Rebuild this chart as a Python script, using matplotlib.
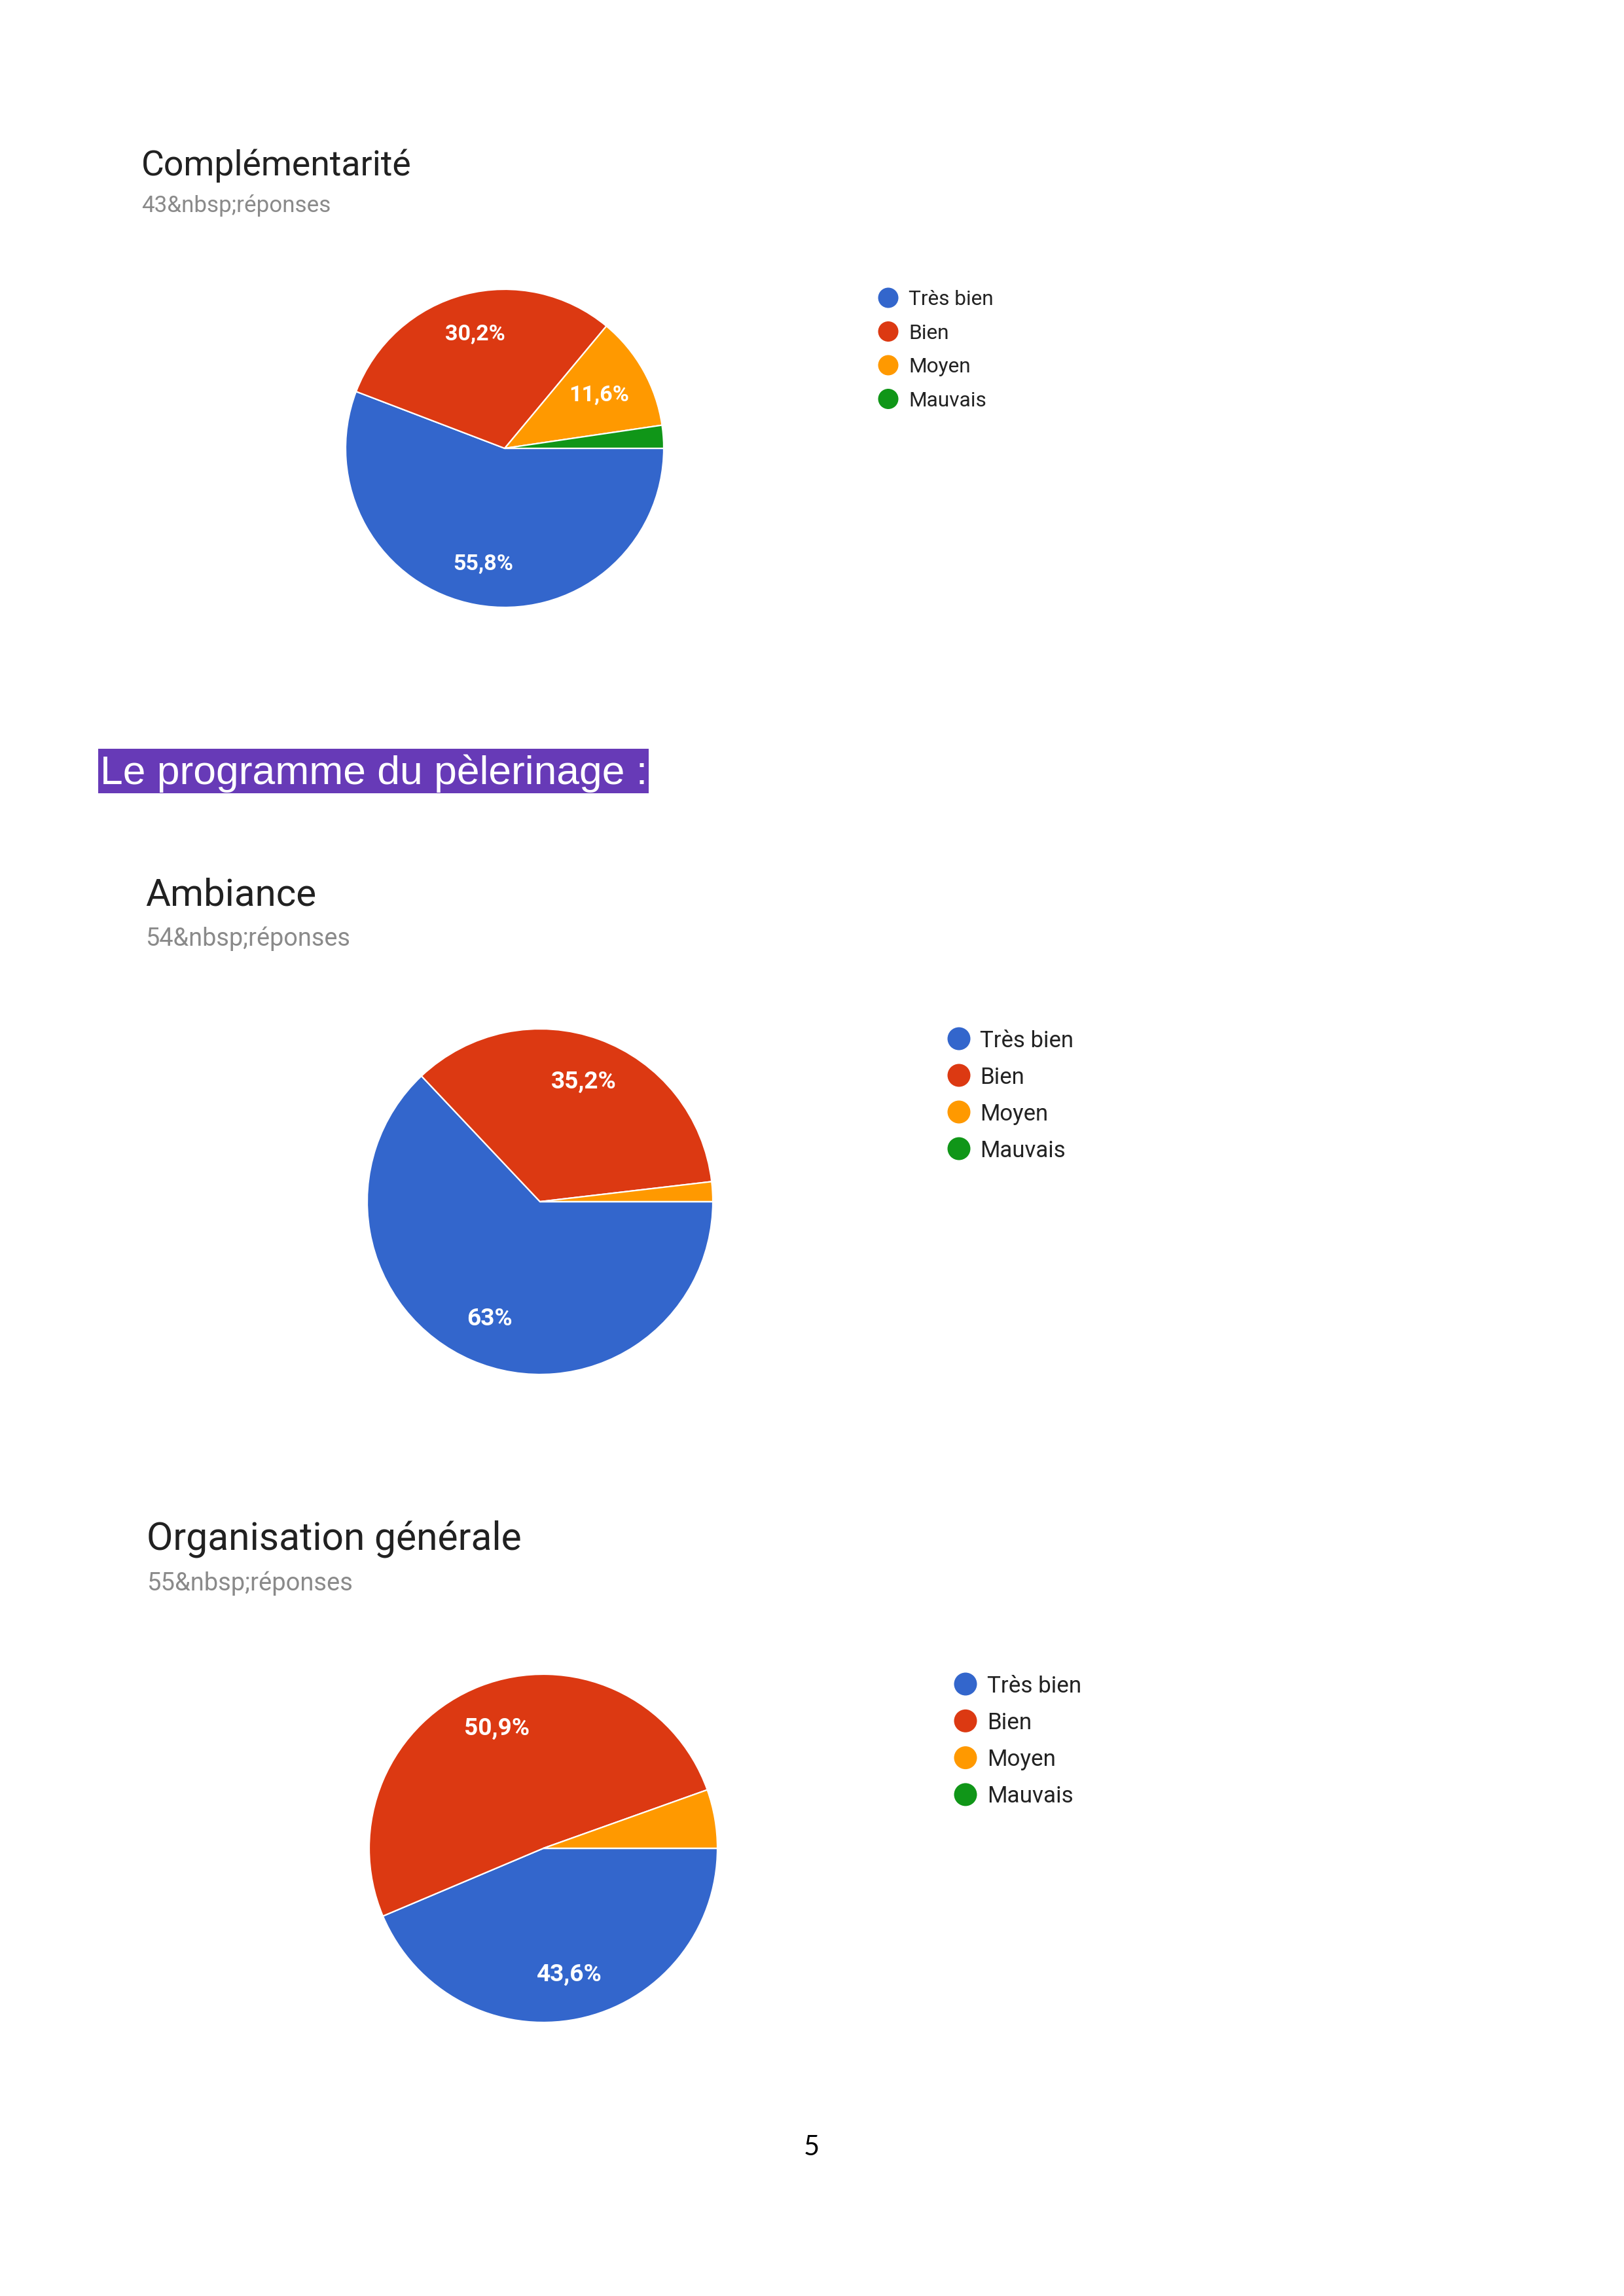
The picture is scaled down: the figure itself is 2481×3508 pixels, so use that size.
import numpy as np
import matplotlib
matplotlib.use("Agg")
import matplotlib.pyplot as plt
from matplotlib.patches import Circle, Rectangle

# ---------------- data ----------------
categories = ["Très bien", "Bien", "Moyen", "Mauvais"]
colors = ["#3366CC", "#DC3912", "#FF9900", "#109618"]

titles = ["Complémentarité", "Ambiance", "Organisation générale"]
responses = [43, 54, 55]
complementarite_counts = [24, 13, 5, 1]
ambiance_counts = [34, 19, 1, 0]
organisation_counts = [24, 28, 3, 0]
all_counts = [complementarite_counts, ambiance_counts, organisation_counts]

heading = "Le programme du pèlerinage :"
page_number = "5"

# ---------------- layout (pixels) ----------------
W, H = 2481, 3508
fig = plt.figure(figsize=(W / 100, H / 100), dpi=100)
fig.patch.set_facecolor("white")
renderer = fig.canvas.get_renderer()

ov = fig.add_axes([0, 0, 1, 1])
ov.set_xlim(0, W)
ov.set_ylim(H, 0)
ov.axis("off")
ov.patch.set_visible(False)

layouts = [
    dict(cx=771, cy=685, r=243, tx=216, tby=268, tw=413, sby=324, sw=289,
         lx=1357, ly=455, lsp=51.5, ld=31, ltx=1388, ltw=130, lab_w=92),
    dict(cx=825, cy=1836, r=264, tx=222, tby=1383, tw=261, sby=1445, sw=313,
         lx=1465, ly=1587, lsp=56, ld=35, ltx=1497, ltw=143, lab_w=100),
    dict(cx=830, cy=2824, r=266, tx=224, tby=2368, tw=573, sby=2430, sw=315,
         lx=1475, ly=2573, lsp=56.3, ld=35, ltx=1508, ltw=144, lab_w=100),
]


def fit_text(x, y, s, width, family, weight="normal", color="black", ha="left", va="baseline"):
    t = ov.text(x, y, s, fontsize=100, family=family, fontweight=weight,
                color=color, ha=ha, va=va)
    bb = t.get_window_extent(renderer)
    t.set_fontsize(100 * width / bb.width)
    return t


def measure_size(s, width, family, weight="normal"):
    t = ov.text(0, 0, s, fontsize=100, family=family, fontweight=weight)
    bb = t.get_window_extent(renderer)
    t.remove()
    return 100 * width / bb.width


def fmt_pct(p):
    v = round(p, 1)
    if abs(v - round(v)) < 1e-9:
        return f"{int(round(v))}%"
    return f"{v:.1f}%".replace(".", ",")


label_size_base = measure_size("30,2%", 92, ["Roboto", "DejaVu Sans"], "bold")

for i, (lay, counts, title, n) in enumerate(zip(layouts, all_counts, titles, responses)):
    # titles
    fit_text(lay["tx"], lay["tby"], title, lay["tw"], ["Roboto", "DejaVu Sans"], color="#212121")
    fit_text(lay["tx"], lay["sby"], f"{n}&nbsp;réponses", lay["sw"], ["Roboto", "DejaVu Sans"],
             color="#8a8a8a")

    # pie
    pad = 1.04
    r = lay["r"]
    ax = fig.add_axes([(lay["cx"] - pad * r) / W, 1 - (lay["cy"] + pad * r) / H,
                       2 * pad * r / W, 2 * pad * r / H])
    wedges, texts, autotexts = ax.pie(
        counts, colors=colors, startangle=0, counterclock=False,
        autopct=lambda p: fmt_pct(p) if p >= 8 else "", pctdistance=0.74,
        wedgeprops=dict(edgecolor="white", linewidth=1.6),
    )
    fs = label_size_base * lay["lab_w"] / 92
    total = float(sum(counts))
    for w, t, c in zip(wedges, autotexts, counts):
        t.set_color("white")
        t.set_fontsize(fs)
        t.set_fontweight("bold")
        t.set_family(["Roboto", "DejaVu Sans"])
        if total and c / total < 0.15:
            # narrow slices: label sits a little closer to the centre
            mid = np.deg2rad((w.theta1 + w.theta2) / 2)
            t.set_position((0.68 * np.cos(mid), 0.68 * np.sin(mid)))
    ax.set_xlim(-pad, pad)
    ax.set_ylim(-pad, pad)
    ax.set_aspect("equal")
    ax.axis("off")

    # legend
    for k, (cat, col) in enumerate(zip(categories, colors)):
        y = lay["ly"] + k * lay["lsp"]
        ov.add_patch(Circle((lay["lx"], y), lay["ld"] / 2, color=col, lw=0))
    leg_fs = measure_size("Très bien", lay["ltw"], ["Roboto", "DejaVu Sans"])
    for k, cat in enumerate(categories):
        y = lay["ly"] + k * lay["lsp"]
        ov.text(lay["ltx"], y + leg_fs * 100 / 72 * 0.36, cat, fontsize=leg_fs,
                family=["Roboto", "DejaVu Sans"], color="#222222", va="baseline", ha="left")

# heading with purple highlight
ov.add_patch(Rectangle((150, 1144), 841, 68, color="#673AB7", lw=0))
fit_text(153, 1198, heading, 835, ["Liberation Sans", "DejaVu Sans"], color="white")

# page number
ov.text(1240, 3293, page_number, fontsize=30, family=["Lato", "DejaVu Sans"],
        color="black", ha="center", va="baseline")

fig.savefig("out.png", dpi=100)
